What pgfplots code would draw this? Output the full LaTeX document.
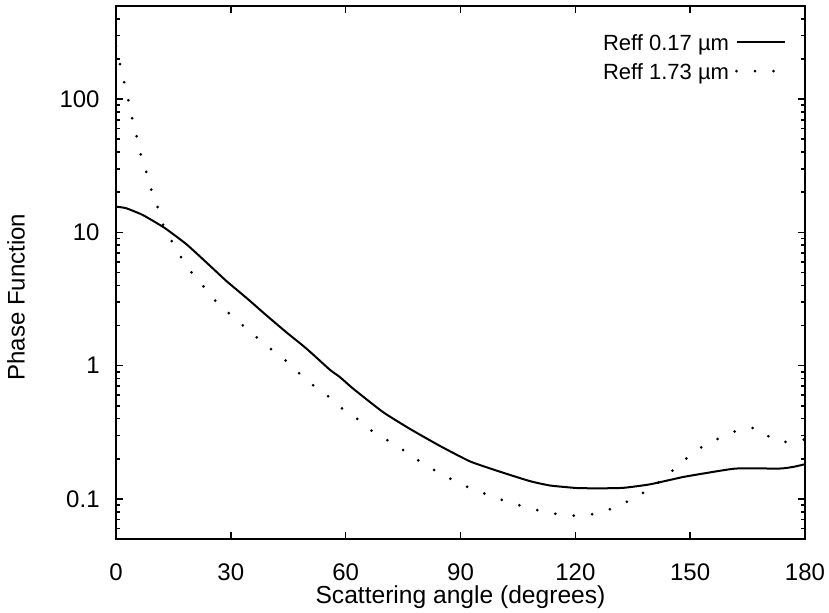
\documentclass[border=0pt]{standalone}
\usepackage{fontspec}
\setmainfont{Liberation Sans}
\usepackage{pgfplots}
\pgfplotsset{compat=1.18}
\begin{document}
\fontsize{12}{14}\selectfont
\begin{tikzpicture}
\useasboundingbox (-58pt,-37pt) rectangle (356.5pt,269.5pt);
\begin{axis}[
  at={(0pt,0pt)}, anchor=south west,
  scale only axis, width=344.5pt, height=266.5pt,
  ymode=log, xmin=0, xmax=180, ymin=0.05, ymax=500,
  xtick={0,30,60,90,120,150,180},
  ytick={0.1,1,10,100}, yticklabels={0.1,1,10,100},
  minor ytick={0.06,0.07,0.08,0.09,0.2,0.3,0.4,0.5,0.6,0.7,0.8,0.9,2,3,4,5,6,7,8,9,20,30,40,50,60,70,80,90,200,300,400},
  /pgf/number format/assume math mode=true,
  tick label style={font=\fontsize{12}{14}\selectfont},
  xticklabel style={yshift=-8pt},
  yticklabel style={xshift=-4pt},
  major tick length=3.5pt, minor tick length=2pt,
  axis line style={line width=1pt},
  every tick/.append style={line width=0.8pt,black},
  xlabel={Scattering angle (degrees)},
  ylabel={Phase Function},
  xlabel style={at={([yshift=-29pt]rel axis cs:0.5,0)}, anchor=center, font=\fontsize{12.3}{14}\selectfont},
  ylabel style={at={([xshift=-50pt]rel axis cs:0,0.454)}, anchor=center, font=\fontsize{12}{14}\selectfont},
  legend style={draw=none, fill=none, inner sep=0pt, outer sep=0pt,
    at={(rel axis cs:0.9725,0.951)}, anchor=north east,
    legend cell align=right, font=\fontsize{11}{13}\selectfont,
    nodes={inner sep=1pt, text height=8pt, text depth=0pt},
    row sep=4.5pt, column sep=2pt},
  legend plot pos=right,
  legend image code/.code={\draw[#1] (0pt,0pt) -- (24pt,0pt);},
]
\addplot[black, line width=1pt, smooth, tension=0.3] coordinates {
(0,15.6) (2.6,15.2) (7,13.5) (12.7,10.8) (18.5,8.1) (24.6,5.6) (28.9,4.3) (34.1,3.22)
(39.4,2.37) (44.6,1.77) (48.1,1.47) (50.7,1.27) (55.9,0.93) (58.5,0.82) (62.0,0.67)
(69.8,0.447) (76.8,0.335) (84.6,0.25) (92.5,0.191) (100.3,0.160) (108.1,0.136)
(113.4,0.126) (120.3,0.1207) (126,0.120) (132.5,0.121) (139.5,0.1286) (148.2,0.146)
(155.2,0.158) (162.1,0.169) (173.5,0.169) (177,0.174) (180,0.182)
};
\addlegendentry{Reff 0.17 µm}
\addplot[black, line width=1.5pt, line cap=round, dash pattern=on 0pt off 9.25pt, smooth, tension=0.3] coordinates {
(0,250) (1.31,169) (2.43,123) (3.47,91) (4.44,67) (5.67,48.8) (6.71,35.9) (8.28,26.5)
(9.48,19.6) (11.23,14.6) (12.62,10.8) (14.97,8.19) (17.42,6.23) (20.19,4.80) (23.43,3.77)
(26.46,2.95) (30.04,2.40) (33.62,1.95) (37.17,1.59) (40.93,1.30) (44.67,1.07) (48.06,0.865)
(51.72,0.703) (55.64,0.583) (59.11,0.476) (63.13,0.396) (66.79,0.325) (70.71,0.278)
(74.78,0.235) (78.80,0.196) (82.72,0.167) (86.80,0.1445) (90.90,0.126) (95.26,0.1125)
(99.78,0.1004) (104.2,0.0914) (108.6,0.0844) (113.2,0.0787) (117.9,0.075) (122.5,0.075)
(127.0,0.080) (131.6,0.0893) (135.7,0.103) (139.7,0.120) (143.5,0.146) (147.0,0.179)
(150.5,0.219) (154.3,0.258) (158.6,0.294) (163.2,0.333) (167.7,0.339) (171.5,0.280)
(175.8,0.266) (180,0.28)
};
\addlegendentry{Reff 1.73 µm}
\end{axis}
\end{tikzpicture}
\end{document}
